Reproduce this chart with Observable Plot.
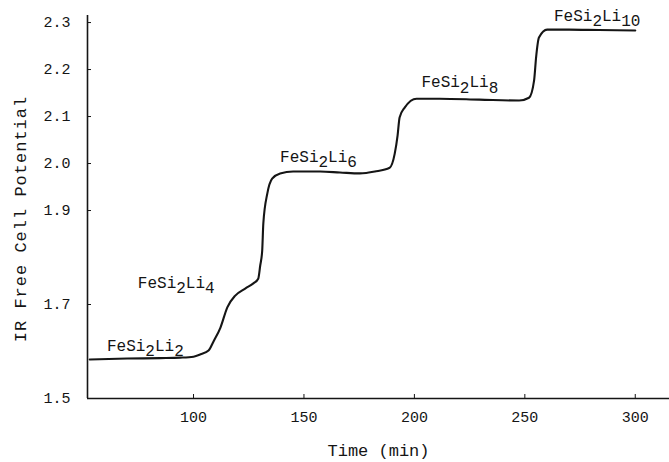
<!DOCTYPE html>
<html>
<head>
<meta charset="utf-8">
<script src="https://cdn.jsdelivr.net/npm/d3@7"></script>
<script src="https://cdn.jsdelivr.net/npm/@observablehq/plot@0.6"></script>
<style>
  html, body { margin: 0; padding: 0; background: #fff; }
  #chart svg { display: block; }
</style>
</head>
<body>
<div id="chart"></div>
<script>
// Data
const time = [53, 70, 85, 94, 100, 103.2, 106.8, 109, 112.2, 115.3, 118.9, 123.4, 127.1, 129.3, 130.2,
  131.1, 131.6, 133.4, 135.6, 139.2, 145.1, 157.3, 166.3, 175.3, 182.1, 188.8, 191.1, 192.4, 193.3, 195.6,
  201, 211.4, 229.4, 247.4, 251.9, 254.2, 255.1, 256.4, 260.1, 270, 283.5, 300];
const potential = [1.583, 1.585, 1.586, 1.587, 1.589, 1.594, 1.602, 1.621, 1.651, 1.694, 1.719, 1.734, 1.745, 1.755, 1.783,
  1.815, 1.872, 1.936, 1.968, 1.979, 1.983, 1.983, 1.981, 1.979, 1.983, 1.991, 2.021, 2.060, 2.098, 2.119,
  2.138, 2.138, 2.136, 2.134, 2.140, 2.177, 2.226, 2.268, 2.285, 2.285, 2.284, 2.283];

const phaseLabels = ["FeSi2Li2", "FeSi2Li4", "FeSi2Li6", "FeSi2Li8", "FeSi2Li10"];
const labelTime = [60.8, 74.8, 139.2, 203.2, 263.2];
const labelPotential = [1.602, 1.736, 2.004, 2.162, 2.304];

const xTicks = [100, 150, 200, 250, 300];
const xTickLabels = ["100", "150", "200", "250", "300"];
const yTicks = [1.5, 1.7, 1.9, 2.0, 2.1, 2.2, 2.3];
const yTickLabels = ["1.5", "1.7", "1.9", "2.0", "2.1", "2.2", "2.3"];

const xTitle = "Time (min)";
const yTitle = "IR Free Cell Potential";

const xDomain = [52, 315.5];
const yDomain = [1.5, 2.315];

const curve = time.map((t, i) => ({t, v: potential[i]}));
const labels = phaseLabels.map((s, i) => ({s, t: labelTime[i], v: labelPotential[i]}));

const ink = "#151515";
const font = "'Liberation Mono', 'DejaVu Sans Mono', monospace";

const chart = Plot.plot({
  width: 669,
  height: 462,
  marginLeft: 87,
  marginRight: 0,
  marginTop: 15,
  marginBottom: 64,
  style: {fontFamily: font, fontSize: "15px", background: "#fff", color: ink},
  x: {domain: xDomain},
  y: {domain: yDomain},
  marks: [
    Plot.ruleX([xDomain[0]], {stroke: ink, strokeWidth: 1.6}),
    Plot.ruleY([yDomain[0]], {stroke: ink, strokeWidth: 1.6}),
    Plot.axisX(xTicks, {
      anchor: "bottom", tickSize: -4, tickPadding: 17, label: null,
      tickFormat: d => xTickLabels[xTicks.indexOf(d)], fontSize: 15, stroke: ink
    }),
    Plot.axisY(yTicks, {
      anchor: "left", tickSize: -4, tickPadding: 21, label: null,
      tickFormat: d => yTickLabels[yTicks.indexOf(d)], fontSize: 15, stroke: ink
    }),
    Plot.line(curve, {x: "t", y: "v", curve: "monotone-x", stroke: ink, strokeWidth: 2.1}),
    Plot.text(labels, {
      x: "t", y: "v", text: "s", textAnchor: "start", lineAnchor: "bottom",
      fontSize: 16, fill: ink
    }),
    Plot.text([xTitle], {frameAnchor: "bottom", textAnchor: "middle", lineAnchor: "middle", dy: 52, fontSize: 17, fill: ink}),
    Plot.text([yTitle], {frameAnchor: "left", textAnchor: "middle", lineAnchor: "middle", rotate: -90, dx: -67, dy: 12, fontSize: 17, fill: ink})
  ]
});

// Typewriter-like spacing on the vertical title
chart.querySelectorAll("text").forEach(t => {
  if (t.textContent === yTitle) t.style.letterSpacing = "1px";
});

// Render the digits of the phase formulas as lowered (subscript) tspans
chart.querySelectorAll("text").forEach(t => {
  if (!phaseLabels.includes(t.textContent)) return;
  const parts = t.textContent.split(/(\d+)/).filter(p => p.length);
  t.textContent = "";
  let lowered = false;
  parts.forEach(p => {
    const ts = document.createElementNS("http://www.w3.org/2000/svg", "tspan");
    const isSub = /^\d+$/.test(p);
    if (isSub !== lowered) { ts.setAttribute("dy", isSub ? "0.32em" : "-0.32em"); lowered = isSub; }
    ts.textContent = p;
    t.appendChild(ts);
  });
});

document.getElementById("chart").appendChild(chart);
</script>
</body>
</html>
